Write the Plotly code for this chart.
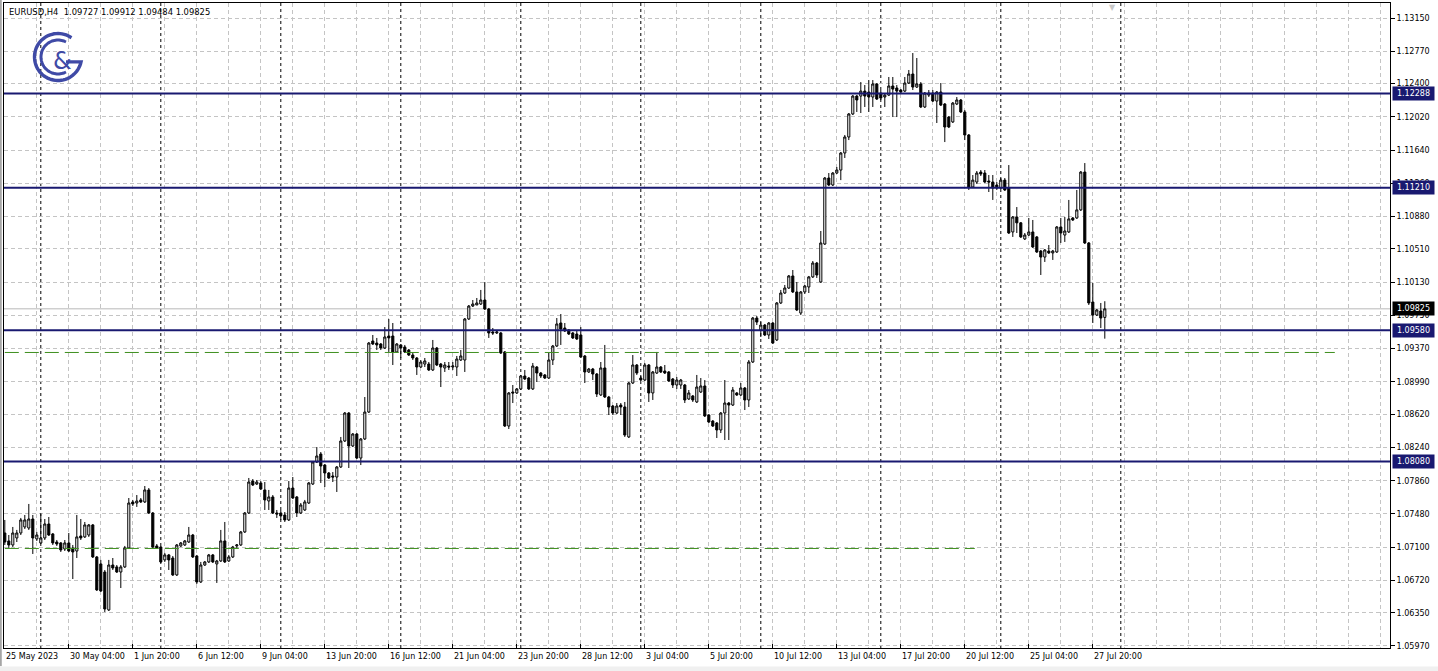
import numpy as np
import plotly.graph_objects as go

# ---------------- data (EURUSD H4, bar index 0 = 25 May 2023 12:00) ----------------
open_ = [
1.07262,1.07171,1.07125,1.07205,1.07262,1.07331,1.07319,1.07422,1.07194,1.07148,
1.07205,1.07365,1.07251,1.07159,1.07148,1.07079,1.07148,1.07091,1.07056,1.07228,
1.07217,1.07239,1.07354,1.06988,1.06908,1.06816,1.06382,1.06896,1.06874,1.06816,
1.06874,1.07091,1.07617,1.07605,1.07640,1.07617,1.07754,1.07491,1.07114,1.07102,
1.06954,1.07011,1.06976,1.06782,1.07114,1.07125,1.07159,1.07239,1.06999,1.06702,
1.06896,1.06931,1.07011,1.06908,1.06942,1.07171,1.06942,1.06988,1.07114,1.07125,
1.07274,1.07491,1.07856,1.07822,1.07834,1.07754,1.07628,1.07674,1.07491,1.07491,
1.07468,1.07411,1.07776,1.07674,1.07491,1.07525,1.07605,1.07822,1.08074,1.08165,
1.08039,1.07948,1.07914,1.07902,1.08017,1.08314,1.08634,1.08257,1.08394,1.08119,
1.08337,1.08645,1.09457,1.09434,1.09423,1.09377,1.09514,1.09514,1.09332,1.09412,
1.09389,1.09354,1.09297,1.09263,1.09160,1.09194,1.09194,1.09126,1.09377,1.09194,
1.09149,1.09171,1.09160,1.09160,1.09240,1.09240,1.09709,1.09857,1.09869,1.09880,
1.09926,1.09823,1.09560,1.09549,1.09549,1.09332,1.08485,1.08874,1.08863,1.08909,
1.09057,1.09034,1.08909,1.09160,1.09091,1.09069,1.09034,1.09240,1.09400,1.09663,
1.09606,1.09583,1.09549,1.09537,1.09526,1.09286,1.09103,1.09137,1.09080,1.08840,
1.09149,1.08817,1.08714,1.08634,1.08725,1.08703,1.08360,1.08977,1.09183,1.09034,
1.09011,1.09183,1.08863,1.09091,1.09160,1.09114,1.09103,1.09023,1.08954,1.08954,
1.08954,1.08794,1.08829,1.08760,1.08874,1.08943,1.08611,1.08542,1.08520,1.08440,
1.08634,1.08748,1.08725,1.08863,1.08840,1.08920,1.08783,1.09217,1.09720,1.09583,
1.09640,1.09526,1.09663,1.09469,1.09892,1.10006,1.10063,1.10201,1.10018,1.09777,
1.10018,1.10075,1.10190,1.10349,1.10132,1.10566,1.11321,1.11241,1.11378,1.11412,
1.11607,1.11790,1.12053,1.12258,1.12258,1.12315,1.12304,1.12247,1.12396,1.12292,
1.12247,1.12269,1.12373,1.12350,1.12327,1.12315,1.12407,1.12510,1.12361,1.12396,
1.12133,1.12269,1.12292,1.12201,1.12304,1.12167,1.12018,1.11962,1.12167,1.12213,
1.12076,1.11813,1.11218,1.11275,1.11389,1.11378,1.11287,1.11275,1.11241,1.11206,
1.11297,1.11206,1.10704,1.10875,1.10808,1.10624,1.10669,1.10704,1.10647,1.10486,
1.10417,1.10486,1.10464,1.10475,1.10761,1.10669,1.10704,1.10864,1.10864,1.10956,
1.11389,1.10578,1.09903,1.09754,1.09800,1.09727]

high = [
1.07411,1.07239,1.07331,1.07297,1.07434,1.07468,1.07594,1.07468,1.07274,1.07491,
1.07422,1.07445,1.07262,1.07182,1.07159,1.07182,1.07262,1.07125,1.07468,1.07422,
1.07388,1.07365,1.07365,1.06999,1.06954,1.06839,1.06954,1.06976,1.06896,1.06896,
1.07114,1.07662,1.07640,1.07696,1.07662,1.07799,1.07776,1.07502,1.07136,1.07114,
1.07034,1.07022,1.06999,1.07136,1.07159,1.07182,1.07331,1.07251,1.07011,1.06931,
1.06942,1.07022,1.07022,1.06954,1.07297,1.07388,1.07011,1.07114,1.07136,1.07285,
1.07502,1.07891,1.07879,1.07868,1.07856,1.07845,1.07754,1.07696,1.07525,1.07525,
1.07502,1.07856,1.07902,1.07685,1.07605,1.07640,1.07845,1.08085,1.08245,1.08188,
1.08051,1.07959,1.07959,1.08028,1.08360,1.08645,1.08645,1.08405,1.08405,1.08348,
1.08817,1.09446,1.09526,1.09492,1.09434,1.09617,1.09709,1.09663,1.09434,1.09423,
1.09412,1.09366,1.09320,1.09274,1.09240,1.09263,1.09217,1.09469,1.09389,1.09206,
1.09217,1.09217,1.09217,1.09286,1.09354,1.09720,1.09869,1.09926,1.09949,1.10041,
1.10132,1.09835,1.09606,1.09583,1.09560,1.09343,1.08874,1.08954,1.08920,1.09069,
1.09126,1.09046,1.09206,1.09171,1.09103,1.09080,1.09320,1.09412,1.09720,1.09766,
1.09663,1.09594,1.09560,1.09583,1.09617,1.09297,1.09149,1.09149,1.09091,1.09217,
1.09412,1.08829,1.08725,1.08748,1.08748,1.08760,1.08989,1.09297,1.09194,1.09057,
1.09206,1.09194,1.09114,1.09332,1.09171,1.09183,1.09114,1.09034,1.09046,1.09023,
1.08966,1.08897,1.08840,1.09069,1.09034,1.09011,1.08622,1.08554,1.08531,1.08645,
1.09011,1.08760,1.08931,1.08874,1.08977,1.08931,1.09240,1.09732,1.09743,1.09674,
1.09652,1.09674,1.09674,1.09903,1.10041,1.10098,1.10212,1.10269,1.10132,1.10029,
1.10098,1.10201,1.10372,1.10361,1.10715,1.11332,1.11378,1.11389,1.11447,1.11618,
1.11813,1.12064,1.12269,1.12269,1.12418,1.12384,1.12441,1.12441,1.12407,1.12327,
1.12281,1.12476,1.12476,1.12384,1.12338,1.12476,1.12556,1.12750,1.12693,1.12418,
1.12304,1.12327,1.12327,1.12315,1.12407,1.12178,1.12030,1.12190,1.12247,1.12224,
1.12098,1.11824,1.11355,1.11401,1.11412,1.11412,1.11355,1.11355,1.11275,1.11321,
1.11321,1.11469,1.10886,1.10989,1.10818,1.10692,1.10864,1.10841,1.10658,1.10498,
1.10509,1.10555,1.10498,1.10772,1.10864,1.10875,1.11070,1.10875,1.11184,1.11401,
1.11492,1.10589,1.10121,1.09823,1.09892,1.09912]

low = [
1.07125,1.07091,1.07102,1.07159,1.07239,1.07308,1.07297,1.07022,1.07171,1.07136,
1.07182,1.07228,1.07125,1.07114,1.07045,1.07056,1.07045,1.06736,1.06976,1.07182,
1.07205,1.07217,1.06976,1.06599,1.06588,1.06359,1.06370,1.06839,1.06805,1.06633,
1.06862,1.07079,1.07571,1.07560,1.07605,1.07605,1.07479,1.07091,1.07079,1.06919,
1.06931,1.06839,1.06771,1.06771,1.07102,1.07114,1.07148,1.06976,1.06679,1.06691,
1.06885,1.06919,1.06919,1.06691,1.06931,1.06919,1.06931,1.06976,1.07091,1.07114,
1.07262,1.07479,1.07799,1.07811,1.07754,1.07525,1.07525,1.07479,1.07434,1.07411,
1.07388,1.07399,1.07651,1.07445,1.07479,1.07514,1.07594,1.07811,1.08062,1.07834,
1.07788,1.07879,1.07845,1.07731,1.08005,1.08302,1.08005,1.08245,1.08108,1.08039,
1.08325,1.08634,1.09412,1.09354,1.09354,1.09366,1.09332,1.09183,1.09320,1.09263,
1.09320,1.09286,1.09240,1.09069,1.09149,1.09160,1.09114,1.09114,1.09171,1.08931,
1.09103,1.09126,1.09126,1.09057,1.09229,1.09103,1.09697,1.09846,1.09869,1.09869,
1.09812,1.09492,1.09526,1.09537,1.09309,1.08474,1.08451,1.08748,1.08851,1.08897,
1.09011,1.08897,1.08897,1.08989,1.09034,1.09023,1.09023,1.09183,1.09389,1.09412,
1.09560,1.09526,1.09480,1.09469,1.09263,1.08977,1.09091,1.09011,1.08817,1.08829,
1.08806,1.08611,1.08611,1.08622,1.08611,1.08360,1.08348,1.08966,1.09069,1.09000,
1.09000,1.08760,1.08783,1.09080,1.09091,1.09080,1.08989,1.08920,1.08909,1.08909,
1.08748,1.08783,1.08760,1.08748,1.08863,1.08588,1.08520,1.08474,1.08348,1.08405,
1.08325,1.08325,1.08714,1.08829,1.08829,1.08668,1.08703,1.09206,1.09640,1.09503,
1.09514,1.09480,1.09423,1.09457,1.09880,1.09995,1.10052,1.10006,1.09800,1.09754,
1.09995,1.10006,1.10178,1.10178,1.10121,1.10555,1.11229,1.11229,1.11367,1.11297,
1.11550,1.11755,1.12041,1.12076,1.12064,1.12133,1.12076,1.12133,1.12213,1.12213,
1.12133,1.12258,1.12018,1.12018,1.12292,1.12304,1.12396,1.12327,1.12350,1.12121,
1.12121,1.12247,1.12190,1.11950,1.12144,1.11732,1.11892,1.11950,1.12155,1.12064,
1.11755,1.11184,1.11206,1.11252,1.11344,1.11264,1.11161,1.11070,1.11184,1.11195,
1.11173,1.10681,1.10647,1.10692,1.10635,1.10612,1.10658,1.10521,1.10464,1.10212,
1.10361,1.10452,1.10384,1.10464,1.10578,1.10590,1.10692,1.10829,1.10853,1.10944,
1.10566,1.09869,1.09663,1.09743,1.09606,1.09484]

close = [
1.07159,1.07125,1.07262,1.07262,1.07411,1.07411,1.07422,1.07205,1.07239,1.07205,
1.07365,1.07239,1.07148,1.07136,1.07068,1.07148,1.07056,1.07045,1.07217,1.07205,
1.07354,1.07354,1.06988,1.06611,1.06599,1.06393,1.06896,1.06862,1.06816,1.06874,
1.07091,1.07605,1.07594,1.07628,1.07617,1.07754,1.07491,1.07102,1.07091,1.06931,
1.07011,1.06954,1.06782,1.07125,1.07148,1.07171,1.07239,1.06988,1.06702,1.06896,
1.06931,1.07011,1.06931,1.06942,1.07171,1.06931,1.06988,1.07102,1.07125,1.07274,
1.07491,1.07845,1.07811,1.07845,1.07765,1.07640,1.07674,1.07491,1.07479,1.07457,
1.07411,1.07776,1.07662,1.07491,1.07582,1.07617,1.07834,1.08074,1.08142,1.08028,
1.07948,1.07891,1.07902,1.08017,1.08314,1.08634,1.08257,1.08394,1.08119,1.08337,
1.08645,1.09434,1.09423,1.09412,1.09377,1.09503,1.09492,1.09332,1.09423,1.09377,
1.09332,1.09297,1.09263,1.09160,1.09217,1.09229,1.09126,1.09377,1.09183,1.09160,
1.09183,1.09160,1.09171,1.09251,1.09286,1.09709,1.09857,1.09880,1.09892,1.09926,
1.09823,1.09549,1.09549,1.09560,1.09320,1.08485,1.08863,1.08863,1.08909,1.09057,
1.09023,1.08909,1.09171,1.09091,1.09057,1.09034,1.09240,1.09400,1.09652,1.09594,
1.09572,1.09537,1.09492,1.09480,1.09274,1.09103,1.09137,1.09080,1.08851,1.09149,
1.08817,1.08703,1.08634,1.08714,1.08703,1.08382,1.08977,1.09183,1.09091,1.09011,
1.09183,1.08863,1.09103,1.09160,1.09103,1.09091,1.09000,1.08954,1.09011,1.09011,
1.08783,1.08863,1.08783,1.08931,1.08943,1.08600,1.08531,1.08485,1.08440,1.08634,
1.08748,1.08725,1.08897,1.08840,1.08920,1.08783,1.09217,1.09720,1.09674,1.09640,
1.09526,1.09663,1.09434,1.09892,1.10006,1.10063,1.10201,1.10018,1.09812,1.10018,
1.10086,1.10190,1.10349,1.10212,1.10578,1.11321,1.11241,1.11378,1.11412,1.11607,
1.11790,1.12053,1.12258,1.12213,1.12315,1.12258,1.12247,1.12396,1.12224,1.12235,
1.12269,1.12373,1.12338,1.12315,1.12304,1.12407,1.12510,1.12361,1.12396,1.12133,
1.12292,1.12292,1.12201,1.12304,1.12155,1.11904,1.11904,1.12178,1.12213,1.12076,
1.11813,1.11218,1.11297,1.11378,1.11367,1.11275,1.11275,1.11206,1.11206,1.11297,
1.11184,1.10692,1.10875,1.10808,1.10647,1.10669,1.10704,1.10532,1.10475,1.10417,
1.10498,1.10464,1.10486,1.10761,1.10692,1.10715,1.10853,1.10841,1.10956,1.11389,
1.10578,1.09892,1.09754,1.09812,1.09720,1.09825]

bars = list(range(len(close)))

# x-axis labels (every 16 bars)
label_pos = [0, 16, 32, 48, 64, 80, 96, 112, 128, 144, 160, 176, 192, 208, 224, 240, 256, 272]
label_text = ["25 May 2023", "30 May 04:00", "1 Jun 20:00", "6 Jun 12:00", "9 Jun 04:00",
              "13 Jun 20:00", "16 Jun 12:00", "21 Jun 04:00", "23 Jun 20:00", "28 Jun 12:00",
              "3 Jul 04:00", "5 Jul 20:00", "10 Jul 12:00", "13 Jul 04:00", "17 Jul 20:00",
              "20 Jul 12:00", "25 Jul 04:00", "27 Jul 20:00"]

# price scale
price_ticks = [1.13150, 1.12770, 1.12400, 1.12020, 1.11640, 1.11260, 1.10880, 1.10510, 1.10130,
               1.09750, 1.09370, 1.08990, 1.08620, 1.08240, 1.07860, 1.07480, 1.07100, 1.06720,
               1.06350, 1.05970]

# horizontal levels drawn on chart
levels = [1.12288, 1.11210, 1.09580, 1.08080]
bid_price = 1.09825
green_levels = [1.09326, 1.07085]
green_ends = [332.5, 242.5]
week_starts = [9, 39, 69, 99, 129, 159, 189, 219, 249, 279]

title_text = "EURUSD,H4  1.09727 1.09912 1.09484 1.09825"

# ---------------- styling ----------------
FONT = "DejaVu Sans"
NAVY = "#191970"
GRID = "#c4c4c4"
GREEN = "#3f8f1f"
XR = [-0.2, 346.3]
YR = [1.05947, 1.13322]

fig = go.Figure()
fig.add_trace(go.Candlestick(
    x=bars, open=open_, high=high, low=low, close=close,
    increasing=dict(line=dict(color="black", width=1), fillcolor="white"),
    decreasing=dict(line=dict(color="black", width=1), fillcolor="black"),
    whiskerwidth=0, hoverinfo="skip", showlegend=False))

shapes = []
for w in week_starts:
    shapes.append(dict(type="line", xref="x", yref="paper", x0=w, x1=w, y0=0, y1=1,
                       line=dict(color="black", width=1, dash="3px,3px"), layer="below"))
for lv, xe in zip(green_levels, green_ends):
    shapes.append(dict(type="line", xref="x", yref="y", x0=0, x1=xe, y0=lv, y1=lv,
                       line=dict(color=GREEN, width=1, dash="14px,6px"), layer="above"))
shapes.append(dict(type="line", xref="paper", yref="y", x0=0, x1=1, y0=bid_price, y1=bid_price,
                   line=dict(color="#b8b8b8", width=1), layer="below"))
for lv in levels:
    shapes.append(dict(type="line", xref="paper", yref="y", x0=0, x1=1, y0=lv, y1=lv,
                       line=dict(color=NAVY, width=2), layer="above"))
shapes.append(dict(type="rect", xref="paper", yref="paper", x0=-0.01, x1=1.04, y0=-0.0285, y1=-0.05,
                   fillcolor="#f0f0f0", line=dict(width=0), layer="below"))
shapes.append(dict(type="line", xref="paper", yref="paper", x0=-0.0022, x1=-0.0022, y0=-0.028, y1=1.01,
                   line=dict(color="#606060", width=1)))

# logo (pixel paths relative to top-left of plot area)
LOGO = "#3f4aa6"
cx, cy = 54, -54
def arc(r, a0, a1, n=60):
    t = np.radians(np.linspace(a0, a1, n))
    return [(cx + r * np.cos(a), cy + r * np.sin(a)) for a in t]
pts = arc(23.5, 55, 348)
end = pts[-1]
pts.append((cx + 8, end[1]))
p_outer = "M " + " L ".join(f"{x:.1f},{y:.1f}" for x, y in pts)
pts2 = arc(17, 62, 298)
p_inner = "M " + " L ".join(f"{x:.1f},{y:.1f}" for x, y in pts2)
for p, w in [(p_outer, 3.4), (p_inner, 3.0)]:
    shapes.append(dict(type="path", path=p, xref="paper", yref="paper", xanchor=0, yanchor=1,
                       xsizemode="pixel", ysizemode="pixel", line=dict(color=LOGO, width=w)))

annotations = []
annotations.append(dict(text="&", x=0, y=1, xref="paper", yref="paper", xanchor="center", yanchor="middle",
                        xshift=58, yshift=-58, showarrow=False,
                        font=dict(family=FONT, size=24, color=LOGO)))
annotations.append(dict(text=title_text, x=0, y=1, xref="paper", yref="paper", xanchor="left",
                        yanchor="top", xshift=3, yshift=-2, showarrow=False,
                        font=dict(family=FONT, size=8.4, color="black")))
for p, t in zip(label_pos, label_text):
    annotations.append(dict(text=t, x=p, y=0, xref="x", yref="paper", xanchor="left", yanchor="top",
                            xshift=-1, yshift=-2, showarrow=False,
                            font=dict(family=FONT, size=8, color="black")))
for lv in levels:
    annotations.append(dict(text=f"{lv:.5f}", x=1, y=lv, xref="paper", yref="y", xanchor="left",
                            yanchor="middle", xshift=2, showarrow=False, bgcolor=NAVY, borderpad=2,
                            width=37, font=dict(family=FONT, size=8, color="white")))
annotations.append(dict(text=f"{bid_price:.5f}", x=1, y=bid_price, xref="paper", yref="y", xanchor="left",
                        yanchor="middle", xshift=2, showarrow=False, bgcolor="black", borderpad=2,
                        width=37, font=dict(family=FONT, size=8, color="white")))
annotations.append(dict(text="▼", x=276.8, y=1, xref="x", yref="paper", xanchor="center", yanchor="top",
                        yshift=2, showarrow=False, font=dict(family=FONT, size=8, color="#c8c8c8")))

minor_vals = [v for v in range(0, 347, 8) if v not in label_pos]

fig.update_layout(
    width=1438, height=671, autosize=False,
    margin=dict(l=4, r=48, t=3, b=23, pad=0),
    paper_bgcolor="white", plot_bgcolor="white",
    font=dict(family=FONT, size=8, color="black"),
    boxgap=0.25,
    showlegend=False,
    shapes=shapes, annotations=annotations,
    xaxis=dict(range=XR, rangeslider=dict(visible=False), tickmode="array", tickvals=label_pos,
               showticklabels=False, ticks="inside", ticklen=4, tickcolor="black",
               showgrid=True, gridcolor=GRID, griddash="4px,3px", gridwidth=1,
               minor=dict(tickmode="array", tickvals=minor_vals, showgrid=True, gridcolor=GRID,
                          griddash="4px,3px", ticks=""),
               showline=True, linecolor="black", linewidth=1, mirror=True, zeroline=False,
               fixedrange=True),
    yaxis=dict(range=YR, side="right", tickmode="array", tickvals=price_ticks,
               ticktext=[f"{v:.5f}" for v in price_ticks], ticks="outside", ticklen=4,
               tickcolor="black", showgrid=True, gridcolor=GRID, griddash="4px,3px",
               showline=True, linecolor="black", linewidth=1, mirror=True, zeroline=False,
               tickfont=dict(family=FONT, size=8, color="black"), fixedrange=True),
)

fig.write_html("out.html", config={"displayModeBar": False, "staticPlot": True},
               post_script="document.body.style.margin='0px';document.body.style.overflow='hidden';")
